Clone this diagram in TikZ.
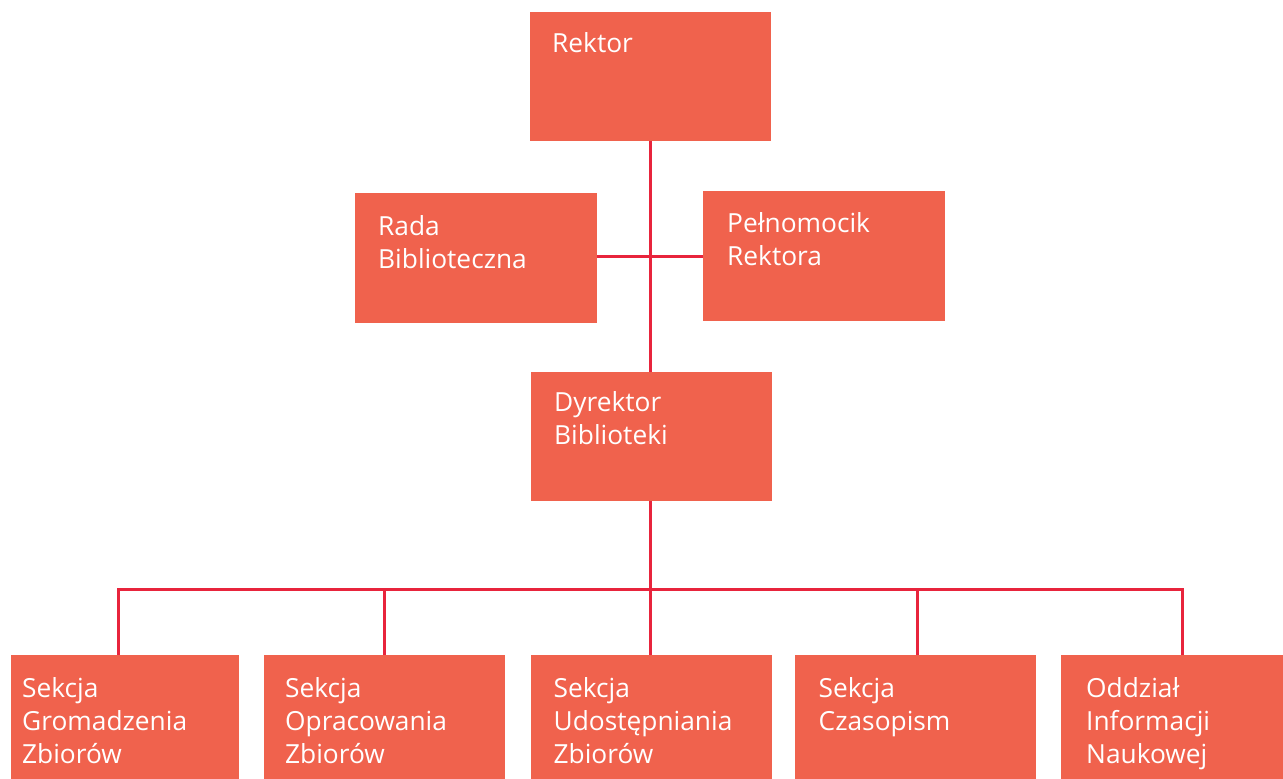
\documentclass[tikz,border=0pt]{standalone}
\usepackage{fontspec}
\setmainfont{Open Sans}
\definecolor{boxfill}{RGB}{240,98,77}
\definecolor{linkred}{RGB}{232,36,60}
\begin{document}
\begin{tikzpicture}[x=1pt,y=-1pt,
  box/.style={draw=none,fill=boxfill,rectangle,inner sep=0pt,outer sep=0pt,anchor=north west},
  lbl/.style={anchor=north west,inner sep=0pt,text=white,align=left,
    font=\fontsize{26.3}{33.3}\selectfont},
  link/.style={draw=linkred,line width=3pt}]
\clip (0,0) rectangle (1283,779);
\fill[white] (0,0) rectangle (1283,779);
% boxes
\node[box,minimum width=241pt,minimum height=129pt] (rek) at (530,12) {};
\node[box,minimum width=242pt,minimum height=130pt] (rada) at (355,193) {};
\node[box,minimum width=242pt,minimum height=130pt] (pel) at (703,191) {};
\node[box,minimum width=241pt,minimum height=129pt] (dyr) at (531,372) {};
\node[box,minimum width=228pt,minimum height=130pt] (b1) at (11,655) {};
\node[box,minimum width=241pt,minimum height=130pt] (b2) at (264,655) {};
\node[box,minimum width=241pt,minimum height=130pt] (b3) at (530.5,655) {};
\node[box,minimum width=241pt,minimum height=130pt] (b4) at (794.5,655) {};
\node[box,minimum width=240pt,minimum height=130pt] (b5) at (1061,655) {};
% labels
\node[lbl] (rekT) at ([shift={(22,20)}]rek.north west) {Rektor};
\node[lbl] (radaT) at ([shift={(23,22)}]rada.north west) {Rada\\Biblioteczna};
\node[lbl] (pelT) at ([shift={(24,21)}]pel.north west) {Pełnomocik\\Rektora};
\node[lbl] (dyrT) at ([shift={(23,19)}]dyr.north west) {Dyrektor\\Biblioteki};
\node[lbl] (b1T) at ([shift={(11,22)}]b1.north west) {Sekcja\\Gromadzenia\\Zbiorów};
\node[lbl] (b2T) at ([shift={(21,22)}]b2.north west) {Sekcja\\Opracowania\\Zbiorów};
\node[lbl] (b3T) at ([shift={(23,22)}]b3.north west) {Sekcja\\Udostępniania\\Zbiorów};
\node[lbl] (b4T) at ([shift={(24,22)}]b4.north west) {Sekcja\\Czasopism};
\node[lbl] (b5T) at ([shift={(25,22)}]b5.north west) {Oddział\\Informacji\\Naukowej};
% connectors
\coordinate (top) at (650,141);
\draw[link] (top) -- (top |- dyr.north);
\draw[link] (rada.east |- 0,256) -- (pel.west |- 0,256);
\coordinate (bus) at (650,589);
\draw[link] (bus |- dyr.south) -- (bus);
\coordinate (t1) at (118.5,589);
\coordinate (t2) at (384.5,589);
\coordinate (t3) at (650,589);
\coordinate (t4) at (917.5,589);
\coordinate (t5) at (1182,589);
\draw[link] ([xshift=-1.5pt]t1) -- ([xshift=1.5pt]t5);
\draw[link] ([yshift=-1.5pt]t1) -- (t1 |- b1.north);
\draw[link] (t2) -- (t2 |- b2.north);
\draw[link] (t3) -- (t3 |- b3.north);
\draw[link] (t4) -- (t4 |- b4.north);
\draw[link] ([yshift=-1.5pt]t5) -- (t5 |- b5.north);
\end{tikzpicture}
\end{document}
